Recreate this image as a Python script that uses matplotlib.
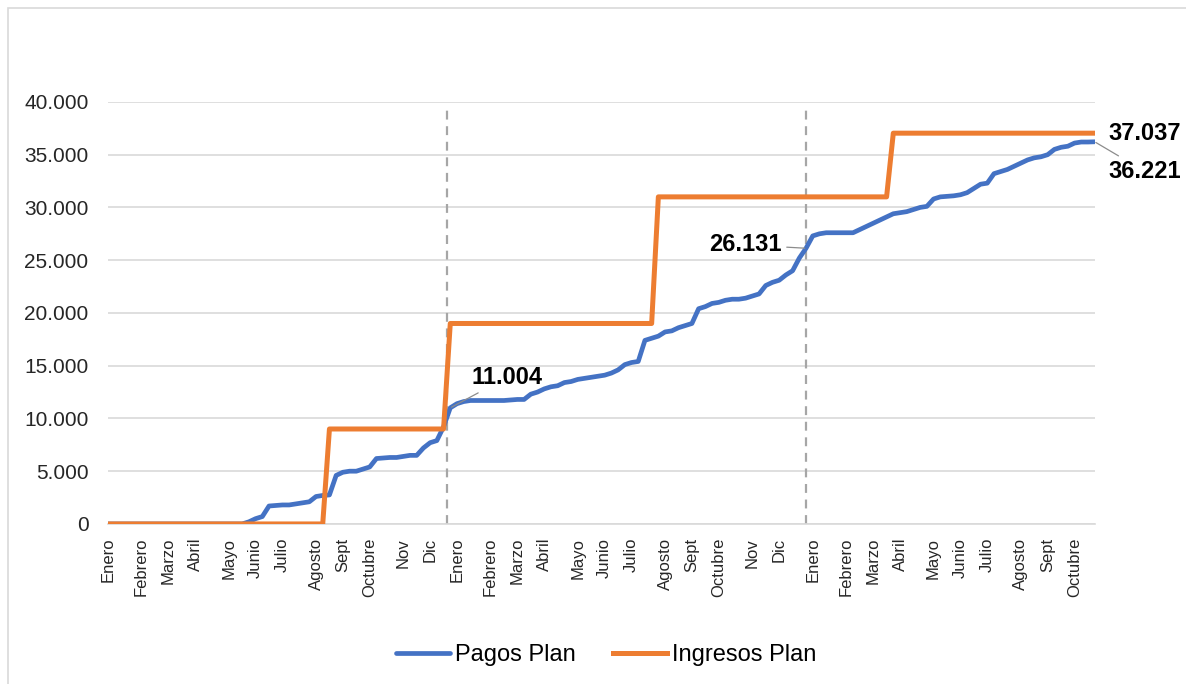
import matplotlib
matplotlib.use("Agg")
import matplotlib.pyplot as plt
from matplotlib.patches import Rectangle
from matplotlib.ticker import FuncFormatter

plt.rcParams['font.family'] = ['Liberation Sans', 'DejaVu Sans']

# weekly points, three planning years
month_pos = [0, 5, 9, 13, 18, 22, 26, 31, 35, 39, 44, 48,
             52, 57, 61, 65, 70, 74, 78, 83, 87, 91, 96, 100,
             105, 110, 114, 118, 123, 127, 131, 136, 140, 144]
month_lbl = ['Enero', 'Febrero', 'Marzo', 'Abril', 'Mayo', 'Junio', 'Julio',
             'Agosto', 'Sept', 'Octubre', 'Nov', 'Dic',
             'Enero', 'Febrero', 'Marzo', 'Abril', 'Mayo', 'Junio', 'Julio',
             'Agosto', 'Sept', 'Octubre', 'Nov', 'Dic',
             'Enero', 'Febrero', 'Marzo', 'Abril', 'Mayo', 'Junio', 'Julio',
             'Agosto', 'Sept', 'Octubre']
year_breaks = [50.5, 104]

pagos = [0, 0, 0, 0, 0, 0, 0, 0, 0, 0, 0, 0, 0, 0, 0, 0, 0, 0, 0, 0, 0,
         200, 500, 700, 1700, 1750, 1800, 1800, 1900, 2000, 2100, 2600, 2700, 2750,
         4600, 4900, 5000, 5000, 5200, 5400, 6200, 6250, 6300, 6300, 6400, 6500, 6500,
         7200, 7700, 7900, 9200, 11004, 11400, 11600, 11700, 11700, 11700, 11700, 11700,
         11700, 11750, 11800, 11800, 12300, 12500, 12800, 13000, 13100, 13400, 13500,
         13700, 13800, 13900, 14000, 14100, 14300, 14600, 15100, 15300, 15400, 17400,
         17600, 17800, 18200, 18300, 18600, 18800, 19000, 20400, 20600, 20900, 21000,
         21200, 21300, 21300, 21400, 21600, 21800, 22600, 22900, 23100, 23600, 24000,
         25200, 26131, 27300, 27500, 27600, 27600, 27600, 27600, 27600, 27900, 28200,
         28500, 28800, 29100, 29400, 29500, 29600, 29800, 30000, 30100, 30800, 31000,
         31050, 31100, 31200, 31400, 31800, 32200, 32300, 33200, 33400, 33600, 33900,
         34200, 34500, 34700, 34800, 35000, 35500, 35700, 35800, 36100, 36200, 36200,
         36221]
ingresos = [0] * 33 + [9000] * 18 + [19000] * 31 + [31000] * 35 + [37037] * 31

weeks = list(range(len(pagos)))

fig = plt.figure(figsize=(11.86, 6.84), dpi=100)
ax = fig.add_axes([0.091, 0.234, 0.832, 0.617])

ax.plot(weeks, pagos, color='#4472C4', lw=3.4, solid_capstyle='round',
        solid_joinstyle='round', label='Pagos Plan', zorder=3)
ax.plot(weeks, ingresos, color='#ED7D31', lw=3.6, label='Ingresos Plan', zorder=4)

for xb in year_breaks:
    ax.vlines(xb, 0, 39500, colors='#A6A6A6', linestyles=(0, (4, 3)), lw=1.6, zorder=2)

ax.set_xlim(0, len(pagos) - 1)
ax.set_ylim(0, 40000)
ax.set_yticks(range(0, 40001, 5000))
ax.yaxis.set_major_formatter(FuncFormatter(lambda v, p: f'{v:,.0f}'.replace(',', '.')))
ax.set_xticks(month_pos)
ax.set_xticklabels(month_lbl, rotation=90, fontsize=12)
ax.tick_params(axis='y', length=0, pad=14, labelsize=15, colors='#262626')
ax.tick_params(axis='x', length=0, pad=10, colors='#262626')
ax.grid(axis='y', color='#D9D9D9', lw=1.2)
ax.set_axisbelow(True)
for s in ['top', 'right', 'left']:
    ax.spines[s].set_visible(False)
ax.spines['bottom'].set_color('#D9D9D9')
ax.spines['bottom'].set_linewidth(1.2)

# data labels
leader = dict(arrowstyle='-', color='#8C8C8C', lw=0.9, shrinkA=2, shrinkB=1)
ax.annotate('11.004', xy=(51, pagos[51]), xytext=(54.2, 13900), fontsize=17,
            fontweight='bold', ha='left', va='center', arrowprops=leader)
ax.annotate('26.131', xy=(104, pagos[104]), xytext=(100.3, 26450), fontsize=17,
            fontweight='bold', ha='right', va='center', arrowprops=leader)
ax.annotate('37.037', xy=(147, ingresos[-1]), xytext=(149, 37037), fontsize=17,
            fontweight='bold', ha='left', va='center', annotation_clip=False)
ax.annotate('36.221', xy=(147, pagos[-1]), xytext=(154.5, 33400), fontsize=17,
            fontweight='bold', ha='center', va='center', arrowprops=leader,
            annotation_clip=False)

fig.legend(loc='center', bbox_to_anchor=(0.511, 0.042), ncol=2, frameon=False,
           fontsize=17, handlelength=2.3, columnspacing=1.6, handletextpad=0.2)

fig.patches.append(Rectangle((0.007, -0.02), 1.1, 1.008, transform=fig.transFigure,
                             fill=False, edgecolor='#D9D9D9', lw=1.2))

fig.savefig('out.png', dpi=100)
